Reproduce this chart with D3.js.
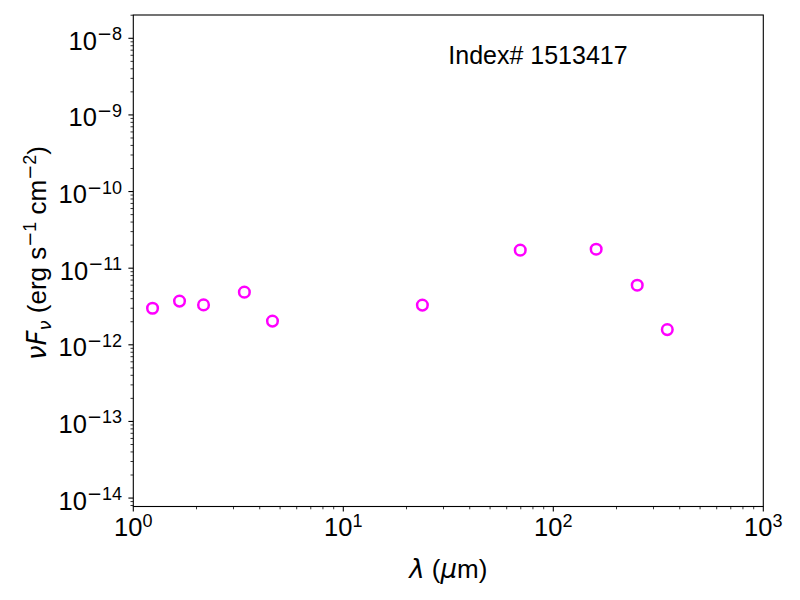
<!DOCTYPE html>
<html>
<head>
<meta charset="utf-8">
<script src="https://cdn.jsdelivr.net/npm/d3@7.9.0/dist/d3.min.js"></script>
<style>
  body { margin: 0; background: #fff; }
  svg { font-family: "Liberation Sans", Arial, Helvetica, sans-serif; }
  .math { font-family: "DejaVu Sans", sans-serif; }
</style>
</head>
<body>
<svg id="chart" width="800" height="600"></svg>
<script>
// SED points
const wavelengths = [1.235, 1.66, 2.16, 3.38, 4.6, 23.8, 69.6, 160, 251, 349];
const fluxes = [3.0e-12, 3.72e-12, 3.32e-12, 4.87e-12, 2.04e-12, 3.30e-12, 1.72e-11, 1.77e-11, 6.0e-12, 1.58e-12];

const xExponents = [0, 1, 2, 3];
const yExponents = [-14, -13, -12, -11, -10, -9, -8];
const indexLabel = 'Index# 1513417';

const svg = d3.select('#chart');
const margin = { left: 133.3, right: 800 - 763.3, top: 15, bottom: 600 - 506.5 };
const W = 800 - margin.left - margin.right;
const H = 600 - margin.top - margin.bottom;

let x = d3.scaleLog().domain([1, 1000]).range([margin.left, margin.left + W]);
let y = d3.scaleLog().domain([Math.pow(10, -14.11), Math.pow(10, -7.696)]).range([margin.top + H, margin.top]);

const g = svg.append('g');

// minor ticks
let xMinor = [];
for (let e = 0; e < 3; e++) for (let m = 2; m <= 9; m++) xMinor.push(m * Math.pow(10, e));
let yMinor = [];
for (let e = -15; e < -7; e++) for (let m = 2; m <= 9; m++) {
  let v = m * Math.pow(10, e);
  if (v >= y.domain()[0] && v <= y.domain()[1]) yMinor.push(v);
}

g.selectAll('.xminor').data(xMinor).enter().append('line')
  .attr('x1', d => x(d)).attr('x2', d => x(d))
  .attr('y1', margin.top + H).attr('y2', margin.top + H + 2.8)
  .attr('stroke', '#000').attr('stroke-width', 0.8);
g.selectAll('.xmajor').data(xExponents).enter().append('line')
  .attr('x1', d => x(Math.pow(10, d))).attr('x2', d => x(Math.pow(10, d)))
  .attr('y1', margin.top + H).attr('y2', margin.top + H + 4.9)
  .attr('stroke', '#000').attr('stroke-width', 1.1);
g.selectAll('.yminor').data(yMinor).enter().append('line')
  .attr('y1', d => y(d)).attr('y2', d => y(d))
  .attr('x1', margin.left).attr('x2', margin.left - 2.8)
  .attr('stroke', '#000').attr('stroke-width', 0.8);
g.selectAll('.ymajor').data(yExponents).enter().append('line')
  .attr('y1', d => y(Math.pow(10, d))).attr('y2', d => y(Math.pow(10, d)))
  .attr('x1', margin.left).attr('x2', margin.left - 4.9)
  .attr('stroke', '#000').attr('stroke-width', 1.1);

// tick labels as 10^n
function powLabel(sel, e) {
  sel.append('tspan').text('10');
  let sup = sel.append('tspan').attr('dy', -9.5).attr('font-size', 18);
  if (e < 0) {
    sup.append('tspan').attr('class', 'math').text('\u2212');
    sup.append('tspan').text(-e);
  } else {
    sup.text(String(e));
  }
}
xExponents.forEach(e => {
  let t = g.append('text')
    .attr('x', x(Math.pow(10, e))).attr('y', 536)
    .attr('text-anchor', 'middle').attr('font-size', 25.5);
  powLabel(t, e);
});
yExponents.forEach(e => {
  let t = g.append('text')
    .attr('x', 122).attr('y', y(Math.pow(10, e)) + 11.5)
    .attr('text-anchor', 'end').attr('font-size', 25.5);
  powLabel(t, e);
});

// frame
g.append('rect')
  .attr('x', margin.left).attr('y', margin.top)
  .attr('width', W).attr('height', H)
  .attr('fill', 'none').attr('stroke', '#000').attr('stroke-width', 1.1);

// data points
g.selectAll('circle').data(wavelengths).enter().append('circle')
  .attr('cx', d => x(d))
  .attr('cy', (d, i) => y(fluxes[i]))
  .attr('r', 5.3)
  .attr('fill', 'none')
  .attr('stroke', '#ff00ff')
  .attr('stroke-width', 2.5);

// annotation
g.append('text')
  .attr('x', margin.left + W / 2).attr('y', 64)
  .attr('font-size', 25).text(indexLabel);

// x label
let xl = g.append('text')
  .attr('x', margin.left + W / 2).attr('y', 578)
  .attr('text-anchor', 'middle').attr('font-size', 26);
xl.append('tspan').attr('class', 'math').attr('font-style', 'italic').text('\u03bb');
xl.append('tspan').text(' (');
xl.append('tspan').attr('class', 'math').attr('font-style', 'italic').text('\u03bc');
xl.append('tspan').text('m)');

// y label
let yl = g.append('text')
  .attr('transform', `translate(46,253) rotate(-90)`)
  .attr('text-anchor', 'middle').attr('font-size', 26);
yl.append('tspan').attr('class', 'math').attr('font-style', 'italic').text('\u03bdF');
yl.append('tspan').attr('class', 'math').attr('font-style', 'italic').attr('font-size', 18).attr('dy', 5).text('\u03bd');
yl.append('tspan').attr('dy', -5).text(' (erg s');
yl.append('tspan').attr('font-size', 18).attr('dy', -10).attr('class', 'math').text('\u2212');
yl.append('tspan').attr('font-size', 18).text('1');
yl.append('tspan').attr('dy', 10).text(' cm');
yl.append('tspan').attr('font-size', 18).attr('dy', -10).attr('class', 'math').text('\u2212');
yl.append('tspan').attr('font-size', 18).text('2');
yl.append('tspan').attr('dy', 10).text(')');
</script>
</body>
</html>
